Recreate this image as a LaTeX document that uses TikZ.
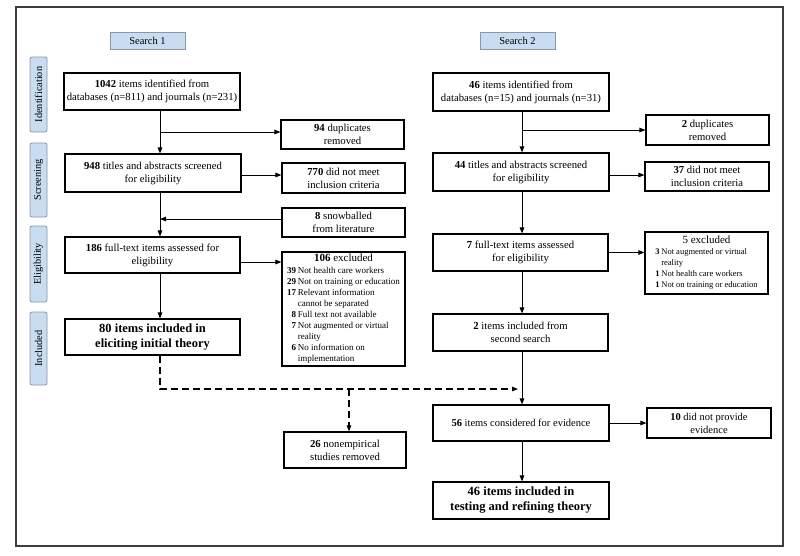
\documentclass[tikz,border=0pt]{standalone}
\usepackage{fontspec}
\setmainfont{Liberation Serif}
\usetikzlibrary{arrows.meta}
\definecolor{lblfill}{RGB}{200,220,242}
\definecolor{lbldraw}{RGB}{140,150,165}
\definecolor{framec}{RGB}{60,60,60}
\newcommand{\lst}{\fontsize{9}{10.5}\selectfont}
\newcommand{\lstb}{\fontsize{8.5}{10.5}\selectfont}
\tikzset{
  x=1pt,y=-1pt,
  box/.style={draw=black,line width=1.1pt,fill=white,align=center,inner sep=0pt,font=\fontsize{10.7}{13}\selectfont},
  bigbox/.style={box,font=\fontsize{12.5}{15}\selectfont\bfseries},
  sidelbl/.style={draw=lbldraw,fill=lblfill,rounded corners=2pt,rotate=90,minimum height=17pt,inner sep=0pt,font=\fontsize{10.3}{11}\selectfont,line width=0.8pt},
  searchlbl/.style={draw=lbldraw,fill=lblfill,minimum width=75pt,minimum height=17pt,inner sep=0pt,font=\fontsize{10.5}{11}\selectfont,line width=0.8pt},
  arr/.style={line width=0.9pt,-{Triangle[length=6pt,width=4.5pt]}},
  dasharr/.style={line width=1.2pt,dash pattern=on 7pt off 4pt,-{Triangle[length=6pt,width=4.5pt]}},
}
\begin{document}
\begin{tikzpicture}
\useasboundingbox (0,0) rectangle (800,555);
\fill[white] (0,0) rectangle (800,555);
\draw[framec,line width=1.4pt] (16,7) rectangle (783,546);

\node[searchlbl] (s1) at (147.5,40.5) {Search 1};
\node[searchlbl] (s2) at (517.5,40.5) {Search 2};

\node[sidelbl,minimum width=75pt] (idn) at (38.5,94.5) {Identification};
\node[sidelbl,minimum width=74pt] (scr) at (38.5,180) {Screening};
\node[sidelbl,minimum width=76pt] (eli) at (38.5,264) {Eligibility};
\node[sidelbl,minimum width=73pt] (inc) at (38.5,348.5) {Included};

% left column
\node[box,minimum width=176pt,minimum height=37pt] (a1) at (152,91.5) {\textbf{1042} items identified from\\databases (n=811) and journals (n=231)};
\node[box,minimum width=123pt,minimum height=29pt] (a2) at (342.5,134.5) {\textbf{94} duplicates\\removed};
\node[box,minimum width=176pt,minimum height=38pt] (a3) at (153,173) {\textbf{948} titles and abstracts screened\\for eligibility};
\node[box,minimum width=123pt,minimum height=30pt] (a4) at (343.5,178) {\textbf{770} did not meet\\inclusion criteria};
\node[box,minimum width=123pt,minimum height=29pt] (a5) at (343.5,222.5) {\textbf{8} snowballed\\from literature};
\node[box,minimum width=175pt,minimum height=36pt] (a6) at (152.5,255) {\textbf{186} full-text items assessed for\\eligibility};
\node[box,minimum width=123pt,minimum height=114pt] (a7) at (343.5,309) {%
  \begin{tabular}{@{}r@{\,}l@{}}
  \multicolumn{2}{c}{\fontsize{11}{12}\selectfont\textbf{106} excluded}\\[-1.5pt]
  \lst\textbf{39} & \lst Not health care workers\\[-2pt]
  \lst\textbf{29} & \lst Not on training or education\\[-2pt]
  \lst\textbf{17} & \lst Relevant information\\[-2pt]
   & \lst cannot be separated\\[-2pt]
  \lst\textbf{8} & \lst Full text not available\\[-2pt]
  \lst\textbf{7} & \lst Not augmented or virtual\\[-2pt]
   & \lst reality\\[-2pt]
  \lst\textbf{6} & \lst No information on\\[-2pt]
   & \lst implementation
  \end{tabular}};
\node[bigbox,minimum width=175pt,minimum height=36pt] (a8) at (152.5,337) {80 items included in\\eliciting initial theory};
\node[box,minimum width=122pt,minimum height=36pt] (a9) at (345,450) {\textbf{26} nonempirical\\studies removed};

% right column
\node[box,minimum width=176pt,minimum height=38pt] (b1) at (521,92) {\textbf{46} items identified from\\databases (n=15) and journals (n=31)};
\node[box,minimum width=123pt,minimum height=30pt] (b2) at (707.5,130) {\textbf{2} duplicates\\removed};
\node[box,minimum width=176pt,minimum height=38pt] (b3) at (521,172) {\textbf{44} titles and abstracts screened\\for eligibility};
\node[box,minimum width=124pt,minimum height=29pt] (b4) at (707,176.5) {\textbf{37} did not meet\\inclusion criteria};
\node[box,minimum width=175pt,minimum height=37pt] (b5) at (520.5,252.5) {\textbf{7} full-text items assessed\\for eligibility};
\node[box,minimum width=123pt,minimum height=62pt] (b6) at (706.5,263) {%
  \begin{tabular}{@{}r@{\,}l@{}}
  \multicolumn{2}{c}{\fontsize{11}{12}\selectfont 5 excluded}\\[-1.5pt]
  \lstb\textbf{3} & \lstb Not augmented or virtual\\[-2pt]
   & \lstb reality\\[-2pt]
  \lstb\textbf{1} & \lstb Not health care workers\\[-2pt]
  \lstb\textbf{1} & \lstb Not on training or education
  \end{tabular}};
\node[box,minimum width=175pt,minimum height=37pt] (b7) at (520.5,332.5) {\textbf{2} items included from\\second search};
\node[box,minimum width=176pt,minimum height=36pt,font=\fontsize{10.5}{13}\selectfont] (b8) at (521,423) {\textbf{56} items considered for evidence};
\node[box,minimum width=124pt,minimum height=30pt,font=\fontsize{10.5}{13}\selectfont] (b9) at (709,423) {\textbf{10} did not provide\\evidence};
\node[bigbox,minimum width=176pt,minimum height=37pt] (b10) at (521,500.5) {46 items included in\\testing and refining theory};

% helper coordinates
\coordinate (L) at (160,0);
\coordinate (R) at (522,0);
\coordinate (j1) at (160,132);
\coordinate (j2) at (522,130);
\coordinate (d1) at (160,389);
\coordinate (d2) at (349,389);
\coordinate (d3) at (518,389);

% left connectors
\draw[arr] (a1.south -| L) -- (a3.north -| L);
\draw[arr] (j1) -- (j1 -| a2.west);
\draw[arr] ([yshift=-2pt]a3.east) -- ([yshift=-2pt]a3.east -| a4.west);
\draw[arr] (a3.south -| L) -- (a6.north -| L);
\draw[arr] ([yshift=3.5pt]a5.west) -- ([yshift=3.5pt]a5.west -| L);
\draw[arr] ([yshift=-7pt]a6.east) -- ([yshift=-7pt]a6.east -| a7.west);
\draw[arr] (a6.south -| L) -- (a8.north -| L);
\draw[dasharr] (a8.south -| L) -- (d1) -- (d3);
\draw[dasharr] (d2) -- (a9.north -| d2);

% right connectors
\draw[arr] (b1.south -| R) -- (b3.north -| R);
\draw[arr] (j2) -- (j2 -| b2.west);
\draw[arr] ([yshift=-3pt]b3.east) -- ([yshift=-3pt]b3.east -| b4.west);
\draw[arr] (b3.south -| R) -- (b5.north -| R);
\draw[arr] (b5.east) -- (b5.east -| b6.west);
\draw[arr] (b5.south -| R) -- (b7.north -| R);
\draw[arr] (b7.south -| R) -- (b8.north -| R);
\draw[arr] (b8.east) -- (b8.east -| b9.west);
\draw[arr] (b8.south -| R) -- (b10.north -| R);
\end{tikzpicture}
\end{document}
